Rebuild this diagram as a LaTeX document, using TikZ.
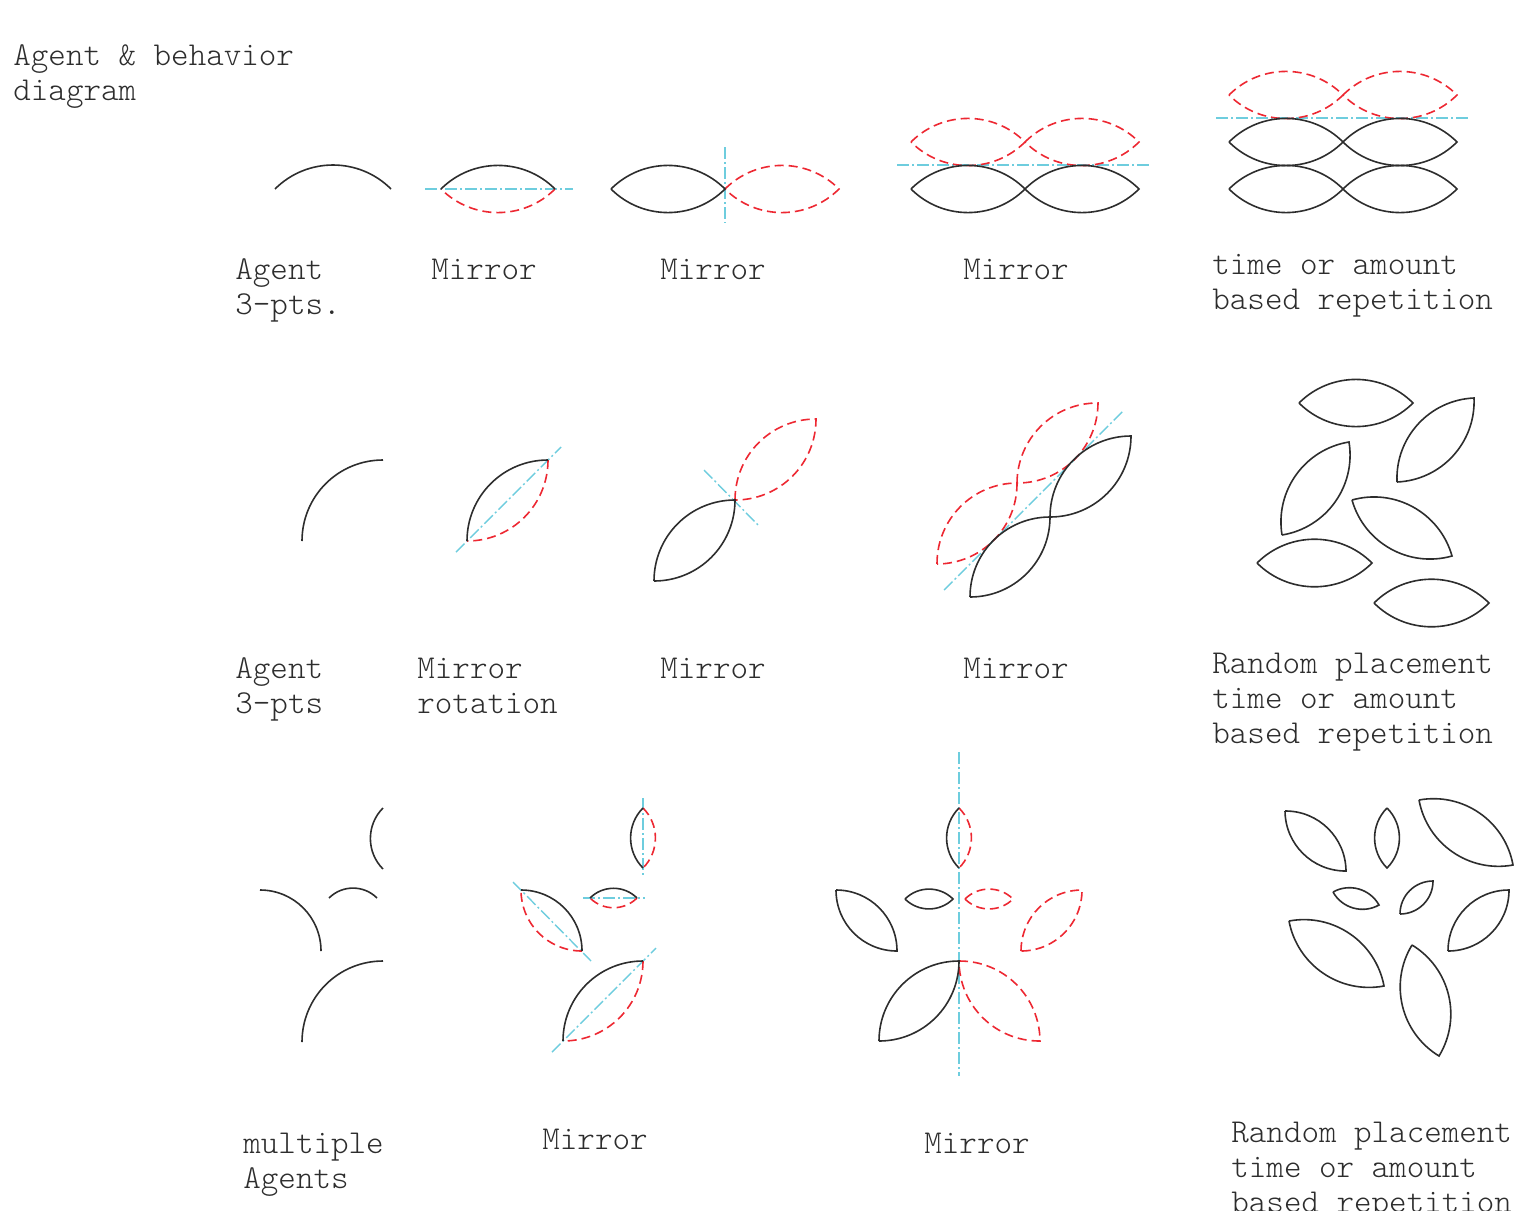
\documentclass[tikz,border=0pt]{standalone}
\usepackage{tikz}
\definecolor{agentred}{RGB}{237,40,50}
\definecolor{axisblue}{RGB}{110,205,222}
\definecolor{agentblack}{RGB}{45,45,45}
\tikzset{
  bow/.style={bend left=45},
  agent/.style={agentblack,line width=.8pt},
  mirrored/.style={agentred,line width=.8pt,dash pattern=on 4.5pt off 2.5pt},
  axisline/.style={axisblue,line width=.7pt,dash pattern=on 6pt off 1.5pt on 1pt off 1.5pt},
  caption/.style={anchor=base west,align=left,inner sep=0pt,text=agentblack,
    font=\ttfamily\fontseries{l}\fontsize{16.7}{17.5}\selectfont},
}

\begin{document}
\begin{tikzpicture}[x=.5pt,y=-.5pt]
  \useasboundingbox (0,0) rectangle (1520,1210);
  \node[caption] (title) at (13,100) {Agent \& behavior\\diagram};

  % row 1
  \draw[agent] (275,189) to[bow] (391,189);
  \node[caption] (agentA) at (235,314) {Agent\\3-pts.};

  \draw[axisline] (425,189)--(573,189);
  \draw[mirrored] (555,189) to[bow] (441,189);
  \draw[agent] (441,189) to[bow] (555,189);
  \node[caption] (mirrorA) at (431,279) {Mirror};

  \draw[axisline] (725,147)--(725,223);
  \draw[mirrored] (725,189) to[bow] (839,189) to[bow] (725,189);
  \draw[agent] (611,189) to[bow] (725,189) to[bow] (611,189);
  \node[caption] (mirrorB) at (660,279) {Mirror};

  \draw[axisline] (897,165)--(1152,165);
  \draw[mirrored] (911,142) to[bow] (1025,142) to[bow] (911,142);
  \draw[mirrored] (1025,142) to[bow] (1139,142) to[bow] (1025,142);
  \draw[agent] (911,189) to[bow] (1025,189) to[bow] (911,189);
  \draw[agent] (1025,189) to[bow] (1139,189) to[bow] (1025,189);
  \node[caption] (mirrorC) at (963,279) {Mirror};

  \draw[axisline] (1216,118)--(1471,118);
  \draw[mirrored] (1229,95) to[bow] (1343,95) to[bow] (1229,95);
  \draw[mirrored] (1343,95) to[bow] (1457,95) to[bow] (1343,95);
  \draw[agent] (1229,142) to[bow] (1343,142) to[bow] (1229,142);
  \draw[agent] (1343,142) to[bow] (1457,142) to[bow] (1343,142);
  \draw[agent] (1229,189) to[bow] (1343,189) to[bow] (1229,189);
  \draw[agent] (1343,189) to[bow] (1457,189) to[bow] (1343,189);
  \node[caption] (repeatA) at (1212,309) {time or amount\\based repetition};

  % row 2
  \draw[agent] (302,541) to[bow] (383,460);
  \node[caption] (agentB) at (235,713) {Agent\\3-pts};

  \draw[axisline] (456,552)--(561,447);
  \draw[mirrored] (548,460) to[bow] (467,541);
  \draw[agent] (467,541) to[bow] (548,460);
  \node[caption] (mirrorD) at (417,713) {Mirror\\rotation};

  \draw[axisline] (704,470)--(759,526);
  \draw[mirrored] (735,500) to[bow] (816,419) to[bow] (735,500);
  \draw[agent] (654,581) to[bow] (735,500) to[bow] (654,581);
  \node[caption] (mirrorE) at (660,678) {Mirror};

  \draw[axisline] (944,590)--(1123,411);
  \draw[mirrored] (937,564) to[bow] (1017,483) to[bow] (937,564);
  \draw[mirrored] (1017,483) to[bow] (1098,403) to[bow] (1017,483);
  \draw[agent] (970,597) to[bow] (1050,517) to[bow] (970,597);
  \draw[agent] (1050,517) to[bow] (1131,436) to[bow] (1050,517);
  \node[caption] (mirrorF) at (963,678) {Mirror};

  \draw[agent] (1299,403) to[bow] (1413,403) to[bow] (1299,403);
  \draw[agent] (1397,482) to[bow] (1474,398) to[bow] (1397,482);
  \draw[agent] (1282,535) to[bow] (1349,442) to[bow] (1282,535);
  \draw[agent] (1352,500) to[bow] (1452,556) to[bow] (1352,500);
  \draw[agent] (1257,563) to[bow] (1372,563) to[bow] (1257,563);
  \draw[agent] (1374,603) to[bow] (1489,603) to[bow] (1374,603);
  \node[caption] (repeatB) at (1212,743) {Random placement\\time or amount\\based repetition};

  % row 3
  \draw[agent] (383,869) to[bow] (383,808);
  \draw[agent] (260,890) to[bow] (321,951);
  \draw[agent] (329,898) to[bow] (377,898);
  \draw[agent] (302,1042) to[bow] (383,961);
  \node[caption] (agentC) at (243,1188) {multiple\\Agents};

  \draw[axisline] (643,798)--(643,877);
  \draw[axisline] (583,898)--(645,898);
  \draw[axisline] (513,882)--(591,961);
  \draw[axisline] (552,1052)--(656,948);
  \draw[mirrored] (643,808) to[bow] (643,868);
  \draw[mirrored] (637,898) to[bow] (590,898);
  \draw[mirrored] (582,951) to[bow] (521,890);
  \draw[mirrored] (643,961) to[bow] (563,1041);
  \draw[agent] (643,868) to[bow] (643,808);
  \draw[agent] (590,898) to[bow] (637,898);
  \draw[agent] (521,890) to[bow] (582,951);
  \draw[agent] (563,1041) to[bow] (643,961);
  \node[caption] (mirrorG) at (542,1149) {Mirror};

  \draw[axisline] (959,752)--(959,1076);
  \draw[mirrored] (959,808) to[bow] (959,868);
  \draw[mirrored] (965,899) to[bow] (1013,899) to[bow] (965,899);
  \draw[mirrored] (1021,951) to[bow] (1082,890) to[bow] (1021,951);
  \draw[mirrored] (959,961) to[bow] (1040,1041) to[bow] (959,961);
  \draw[agent] (959,868) to[bow] (959,808);
  \draw[agent] (905,899) to[bow] (953,899) to[bow] (905,899);
  \draw[agent] (836,890) to[bow] (897,951) to[bow] (836,890);
  \draw[agent] (879,1041) to[bow] (959,961) to[bow] (879,1041);
  \node[caption] (mirrorH) at (924,1153) {Mirror};

  \draw[agent] (1285,811) to[bow] (1346,871) to[bow] (1285,811);
  \draw[agent] (1387,808) to[bow] (1387,868) to[bow] (1387,808);
  \draw[agent] (1419,800) to[bow] (1513,865) to[bow] (1419,800);
  \draw[agent] (1333,892) to[bow] (1379,905) to[bow] (1333,892);
  \draw[agent] (1400,914) to[bow] (1433,881) to[bow] (1400,914);
  \draw[agent] (1448,951) to[bow] (1509,890) to[bow] (1448,951);
  \draw[agent] (1289,921) to[bow] (1384,986) to[bow] (1289,921);
  \draw[agent] (1412,945) to[bow] (1439,1056) to[bow] (1412,945);
  \node[caption] (repeatC) at (1231,1212) {Random placement\\time or amount\\based repetition};
\end{tikzpicture}
\end{document}
